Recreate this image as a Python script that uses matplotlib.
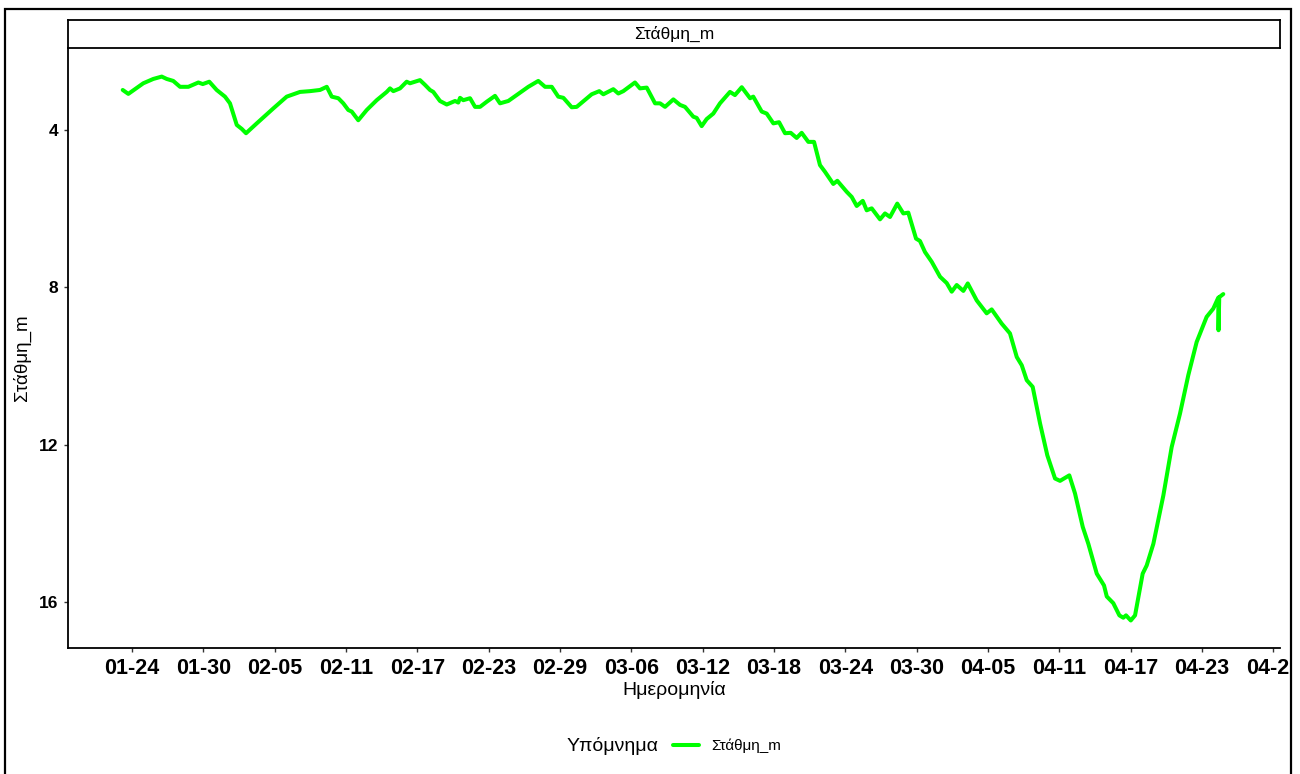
import matplotlib
matplotlib.use("Agg")
import matplotlib.pyplot as plt
import matplotlib.dates as mdates
from matplotlib.patches import Rectangle
import pandas as pd

plt.rcParams['font.family'] = ['Liberation Sans', 'DejaVu Sans']

#%% Data: water level (m) vs days since 2024-01-24
start = pd.Timestamp("2024-01-24")
days = [-0.78, -0.31, 0.95, 1.79, 2.50, 2.92, 3.47, 4.04, 4.74, 5.58,
        5.95, 6.50, 7.12, 7.82, 8.24, 8.81, 9.23, 9.59, 10.49, 11.88,
        13.01, 14.13, 14.97, 15.81, 16.38, 16.80, 17.35, 17.77, 18.19, 18.48,
        19.03, 19.74, 20.58, 21.42, 21.70, 21.98, 22.54, 23.10, 23.38, 24.22,
        24.64, 25.06, 25.34, 25.90, 26.47, 27.17, 27.44, 27.59, 27.86, 28.43,
        28.85, 29.27, 29.83, 30.53, 30.95, 31.65, 32.35, 33.33, 34.17, 34.74,
        35.30, 35.85, 36.28, 36.98, 37.40, 38.66, 39.30, 39.64, 40.48, 40.90,
        41.32, 42.30, 42.72, 43.29, 43.99, 44.41, 44.83, 45.53, 46.09, 46.51,
        47.21, 47.49, 47.91, 48.33, 48.89, 49.45, 50.29, 50.71, 51.28, 51.98,
        52.25, 52.96, 53.38, 53.94, 54.42, 54.92, 55.40, 55.90, 56.32, 56.88,
        57.36, 57.86, 58.28, 58.98, 59.32, 60.11, 60.53, 60.95, 61.46, 61.79,
        62.21, 62.91, 63.33, 63.75, 64.36, 64.87, 65.29, 65.94, 66.27, 66.69,
        67.26, 67.96, 68.52, 68.94, 69.36, 69.92, 70.29, 71.04, 71.88, 72.30,
        73.14, 73.84, 74.41, 74.83, 75.25, 75.75, 76.37, 76.98, 77.63, 78.05,
        78.83, 79.31, 79.96, 80.43, 81.14, 81.75, 81.98, 82.53, 83.04, 83.37,
        83.60, 84.00, 84.36, 85.00, 85.34, 85.90, 86.74, 87.44, 88.14, 88.84,
        89.54, 90.38, 90.94, 91.36, 91.38, 91.44, 91.78]
level = [2.98, 3.08, 2.81, 2.70, 2.64, 2.70, 2.75, 2.90, 2.90, 2.79,
         2.83, 2.77, 2.98, 3.15, 3.32, 3.87, 3.97, 4.08, 3.83, 3.45,
         3.15, 3.03, 3.01, 2.98, 2.90, 3.15, 3.19, 3.32, 3.49, 3.53,
         3.75, 3.49, 3.24, 3.03, 2.94, 3.01, 2.94, 2.77, 2.81, 2.73,
         2.85, 2.98, 3.03, 3.26, 3.35, 3.26, 3.30, 3.18, 3.24, 3.19,
         3.41, 3.41, 3.28, 3.13, 3.32, 3.26, 3.11, 2.90, 2.75, 2.90,
         2.90, 3.15, 3.18, 3.42, 3.41, 3.09, 3.01, 3.09, 2.96, 3.07,
         3.01, 2.79, 2.94, 2.92, 3.32, 3.32, 3.41, 3.22, 3.36, 3.41,
         3.66, 3.69, 3.90, 3.72, 3.58, 3.32, 3.03, 3.11, 2.91, 3.19,
         3.15, 3.53, 3.58, 3.83, 3.80, 4.08, 4.07, 4.20, 4.07, 4.30,
         4.30, 4.89, 5.06, 5.37, 5.29, 5.57, 5.70, 5.93, 5.80, 6.04,
         5.99, 6.27, 6.12, 6.21, 5.87, 6.12, 6.10, 6.76, 6.82, 7.10,
         7.35, 7.73, 7.89, 8.11, 7.94, 8.09, 7.90, 8.33, 8.66, 8.56,
         8.92, 9.17, 9.77, 9.98, 10.36, 10.53, 11.46, 12.27, 12.86, 12.92,
         12.78, 13.24, 14.09, 14.52, 15.28, 15.58, 15.86, 16.03, 16.34, 16.40,
         16.34, 16.47, 16.34, 15.28, 15.07, 14.52, 13.29, 12.06, 11.21, 10.23,
         9.39, 8.75, 8.54, 8.26, 9.09, 8.25, 8.17]

dates = start + pd.to_timedelta(days, unit="D")
tick_dates = pd.date_range("2024-01-24", "2024-04-29", freq="6D")

#%% Plot
W, H = 1300, 774
fig = plt.figure(figsize=(W / 100, H / 100), dpi=100)

def fx(px):
    return px / W

def fy(px):
    return 1 - px / H

ax = fig.add_axes([fx(68), fy(648), fx(1280) - fx(68), fy(48) - fy(648)])
line, = ax.plot(dates, level, color='#00FF00', lw=2.9,
                solid_joinstyle='round', solid_capstyle='round')

ax.set_xlim(start + pd.Timedelta(days=-5.383), start + pd.Timedelta(days=96.55))
ax.set_ylim(17.17, 1.913)
ax.set_yticks([4, 8, 12, 16])
ax.set_xticks(tick_dates)
ax.xaxis.set_major_formatter(mdates.DateFormatter('%m-%d'))

ax.spines[['right', 'top']].set_visible(False)
ax.spines[['left', 'bottom']].set_linewidth(1.3)
ax.tick_params(axis='both', length=3, width=1, color='#333333')
ax.tick_params(axis='x', labelsize=15.5, pad=4)
ax.tick_params(axis='y', labelsize=12.5, pad=4)
for lab in ax.get_xticklabels() + ax.get_yticklabels():
    lab.set_fontweight('bold')

# facet strip
strip = fig.add_axes([fx(68), fy(48), fx(1280) - fx(68), fy(20) - fy(48)])
strip.set_xticks([])
strip.set_yticks([])
for s in strip.spines.values():
    s.set_linewidth(1.3)
strip.text(0.5, 0.5, 'Στάθμη_m', ha='center', va='center', fontsize=12.5,
           transform=strip.transAxes)

fig.text(fx(674), fy(690), 'Ημερομηνία', ha='center', va='center', fontsize=14)
fig.text(fx(22), fy(358), 'Στάθμη_m', ha='center', va='center', fontsize=13.5,
         rotation=90)

# legend
fig.text(fx(567), fy(746), 'Υπόμνημα', ha='left', va='center', fontsize=14)
fig.legend(handles=[line], labels=['Στάθμη_m'], loc='center left',
           bbox_to_anchor=(fx(667), fy(746)), frameon=False, fontsize=11,
           handlelength=1.7, handletextpad=0.8, borderaxespad=0)

# plot border
fig.patches.append(Rectangle((fx(1291), 0), 1, 1, transform=fig.transFigure,
                             facecolor='white', edgecolor='none', zorder=10))
fig.patches.append(Rectangle((fx(5), fy(790)), fx(1291) - fx(5), fy(9) - fy(790),
                             transform=fig.transFigure, fill=False,
                             edgecolor='black', lw=1.6, zorder=11))

fig.savefig('out.png', dpi=100)
